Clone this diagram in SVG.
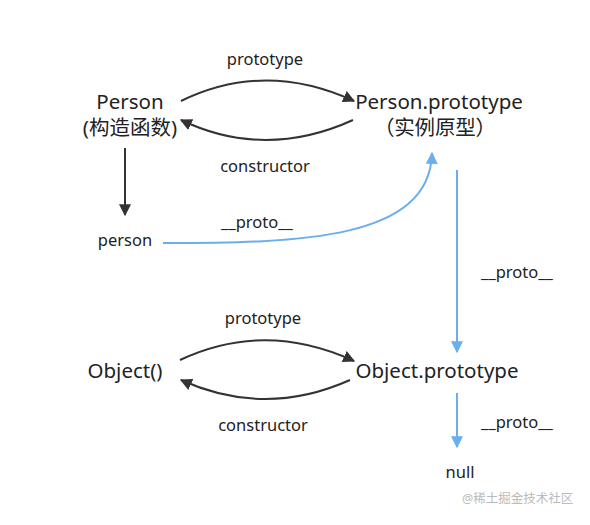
<svg xmlns="http://www.w3.org/2000/svg" width="590" height="525" viewBox="0 0 590 525">
<style>
text{font-family:"Noto Sans","Noto Sans CJK SC",sans-serif;fill:#222;}
.n{font-size:20.5px;text-anchor:middle;}
.l{font-size:16.5px;text-anchor:middle;}
.k{fill:none;stroke:#333;stroke-width:2;}
.b{fill:none;stroke:#6aaef0;stroke-width:2;}
.w{font-size:12.5px;fill:#bbb;}
</style>
<defs>
<marker id="ak" viewBox="0 0 10 10" refX="9" refY="5" markerWidth="6" markerHeight="6" orient="auto" markerUnits="strokeWidth"><path d="M0,0 L10,5 L0,10 Z" fill="#333"/></marker>
<marker id="ab" viewBox="0 0 10 10" refX="9" refY="5" markerWidth="6" markerHeight="6" orient="auto" markerUnits="strokeWidth"><path d="M0,0 L10,5 L0,10 Z" fill="#6aaef0"/></marker>
</defs>
<g id="connectors">
<path class="k" d="M181,101 Q265,60 354,101" marker-end="url(#ak)"/>
<path class="k" d="M353,120 Q265,160 181,120" marker-end="url(#ak)"/>
<path class="k" d="M125,148 L125,215" marker-end="url(#ak)"/>
<path class="b" d="M163,243 C300,243 430,240 432,153" marker-end="url(#ab)"/>
<path class="b" d="M457,170 L457,352" marker-end="url(#ab)"/>
<path class="k" d="M180,360 Q265,320 354,361" marker-end="url(#ak)"/>
<path class="k" d="M350,380 Q265,418 181,380" marker-end="url(#ak)"/>
<path class="b" d="M457,393 L457,447" marker-end="url(#ab)"/>
<text class="l" x="265" y="65">prototype</text>
<text class="l" x="265" y="172">constructor</text>
<text class="l" x="257" y="228">__proto__</text>
<text class="l" x="517" y="278">__proto__</text>
<text class="l" x="263" y="324">prototype</text>
<text class="l" x="263" y="431">constructor</text>
<text class="l" x="517" y="428">__proto__</text>
</g>
<g id="person-fn"><text class="n" x="130" y="109">Person</text><text class="n" x="130" y="135">(构造函数)</text></g>
<g id="person-proto"><text class="n" x="439" y="109">Person.prototype</text><text class="n" x="435" y="135" textLength="122" lengthAdjust="spacing">（实例原型）</text></g>
<g id="person"><text class="l" x="125" y="246">person</text></g>
<g id="object-fn"><text class="n" x="125" y="378">Object()</text></g>
<g id="object-proto"><text class="n" x="437" y="378">Object.prototype</text></g>
<g id="null"><text class="l" x="460" y="478">null</text></g>
<text class="w" x="462" y="503">@稀土掘金技术社区</text>
</svg>
